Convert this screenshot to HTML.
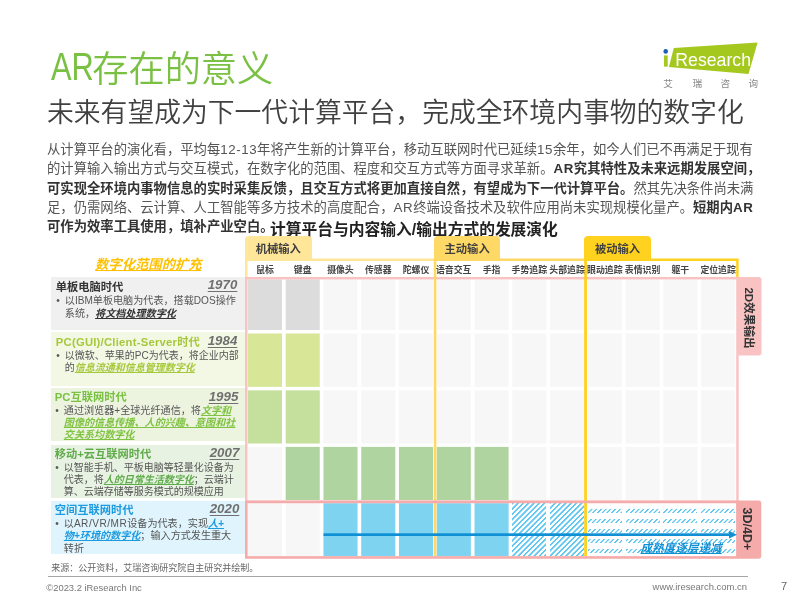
<!DOCTYPE html>
<html lang="zh-CN">
<head>
<meta charset="utf-8">
<title>AR存在的意义</title>
<style>
html,body{margin:0;padding:0;}
body{width:800px;height:600px;position:relative;overflow:hidden;background:#fff;
  font-family:"Liberation Sans","Noto Sans CJK SC",sans-serif;color:#333;}
.abs{position:absolute;white-space:nowrap;}
#title{left:50.5px;top:44.3px;font-size:36.2px;line-height:50px;color:#7ac143;font-weight:350;}
#title .lat{display:inline-block;font-size:39px;line-height:50px;transform:scaleX(.79);transform-origin:0 0;margin-right:-12.4px;position:relative;top:-2.6px;vertical-align:baseline;}
#subtitle{left:47px;top:92.6px;font-size:26.8px;line-height:40px;color:#404040;font-weight:350;}
.body{left:47px;font-size:13.33px;line-height:19.5px;color:#555;}
.body b{color:#333;}
.body .l{letter-spacing:.55px;}
#ctitle{left:270px;top:218.5px;font-size:15.75px;line-height:22px;font-weight:bold;color:#222;}
#ltitle{left:95px;top:256px;font-size:13.33px;line-height:18px;font-weight:bold;font-style:italic;color:#ffc000;text-decoration:underline;}
.tab{position:absolute;height:23.4px;top:235.7px;width:66.6px;border-radius:4px 4px 0 0;text-align:center;font-size:11.3px;font-weight:bold;line-height:27.4px;color:#404040;}
.ch{position:absolute;top:264.4px;width:44px;margin-left:-5px;text-align:center;font-size:8.9px;line-height:13px;font-weight:bold;color:#444;white-space:nowrap;}
.cell{position:absolute;width:34.1px;background:#f7f7f7;}
.lrow{position:absolute;left:51px;width:193.5px;height:53.3px;}
.lrow .t{position:absolute;left:3.8px;top:2px;font-size:11.25px;line-height:16px;font-weight:bold;white-space:nowrap;}
.lrow .y{position:absolute;right:6.2px;top:-1px;font-size:13.3px;line-height:16px;font-style:italic;font-weight:bold;text-decoration:underline;text-decoration-thickness:1px;text-underline-offset:1.5px;color:#707070;}
.lrow .d{position:absolute;left:12.8px;top:18px;font-size:10.1px;color:#555;white-space:nowrap;}
.lrow .d .ln{height:12.1px;line-height:12.1px;}
.lrow .d:before{content:"•";position:absolute;left:-8.6px;top:0;line-height:12.2px;}
.lrow .d i{font-weight:bold;text-decoration:underline;}
</style>
</head>
<body>
<div id="title" class="abs"><span class="lat">AR</span>存在的意义</div>
<div id="subtitle" class="abs">未来有望成为下一代计算平台，完成全环境内事物的数字化</div>

<!-- logo -->
<svg class="abs" style="left:640px;top:40px" width="140" height="60" viewBox="640 40 140 60">
  <polygon points="673.8,47.9 757.6,42.6 748.5,74.1 668.9,67.1" fill="#a5c81e"/>
  <circle cx="665.7" cy="51.4" r="2.3" fill="#1f5fae"/>
  <rect x="664" y="55.4" width="3.7" height="11.2" fill="#a5c81e"/>
  <text x="675.3" y="66.2" font-family="Liberation Sans, sans-serif" font-size="17.7" fill="#fff">Research</text>
  <g font-family="Noto Sans CJK SC, sans-serif" font-size="9.6" fill="#888" text-anchor="middle">
    <text x="668" y="86.9">艾</text><text x="697.4" y="86.9">瑞</text><text x="725.2" y="86.9">咨</text><text x="753.4" y="86.9">询</text>
  </g>
</svg>

<div class="abs body" style="top:139.5px">从计算平台的演化看，平均每<span class="l">12-13</span>年将产生新的计算平台，移动互联网时代已延续<span class="l">15</span>余年，如今人们已不再满足于现有</div>
<div class="abs body" style="top:159px">的计算输入输出方式与交互模式，在数字化的范围、程度和交互方式等方面寻求革新。<b><span class="l">AR</span>究其特性及未来远期发展空间，</b></div>
<div class="abs body" style="top:178.5px"><b>可实现全环境内事物信息的实时采集反馈，且交互方式将更加直接自然，有望成为下一代计算平台。</b>然其先决条件尚未满</div>
<div class="abs body" style="top:198px">足，仍需网络、云计算、人工智能等多方技术的高度配合，<span class="l">AR</span>终端设备技术及软件应用尚未实现规模化量产。<b>短期内<span class="l">AR</span></b></div>
<div class="abs body" style="top:216.5px"><b>可作为效率工具使用，填补产业空白。</b></div>
<div id="ctitle" class="abs">计算平台与内容输入/输出方式的发展演化</div>
<div id="ltitle" class="abs">数字化范围的扩充</div>

<div id="chart">
<svg class="abs" style="left:0;top:0" width="800" height="600" viewBox="0 0 800 600">
<rect x="247.90" y="279.4" width="34.1" height="50.6" fill="#dcdcdc"/>
<rect x="285.67" y="279.4" width="34.1" height="50.6" fill="#dcdcdc"/>
<rect x="323.44" y="279.4" width="34.1" height="50.6" fill="#f7f7f7"/>
<rect x="361.21" y="279.4" width="34.1" height="50.6" fill="#f7f7f7"/>
<rect x="398.98" y="279.4" width="34.1" height="50.6" fill="#f7f7f7"/>
<rect x="436.75" y="279.4" width="34.1" height="50.6" fill="#f7f7f7"/>
<rect x="474.52" y="279.4" width="34.1" height="50.6" fill="#f7f7f7"/>
<rect x="512.29" y="279.4" width="34.1" height="50.6" fill="#f7f7f7"/>
<rect x="550.06" y="279.4" width="34.1" height="50.6" fill="#f7f7f7"/>
<rect x="587.83" y="279.4" width="34.1" height="50.6" fill="#f7f7f7"/>
<rect x="625.60" y="279.4" width="34.1" height="50.6" fill="#f7f7f7"/>
<rect x="663.37" y="279.4" width="34.1" height="50.6" fill="#f7f7f7"/>
<rect x="701.14" y="279.4" width="34.1" height="50.6" fill="#f7f7f7"/>
<rect x="247.90" y="333.5" width="34.1" height="53.4" fill="#d7e697"/>
<rect x="285.67" y="333.5" width="34.1" height="53.4" fill="#d7e697"/>
<rect x="323.44" y="333.5" width="34.1" height="53.4" fill="#f7f7f7"/>
<rect x="361.21" y="333.5" width="34.1" height="53.4" fill="#f7f7f7"/>
<rect x="398.98" y="333.5" width="34.1" height="53.4" fill="#f7f7f7"/>
<rect x="436.75" y="333.5" width="34.1" height="53.4" fill="#f7f7f7"/>
<rect x="474.52" y="333.5" width="34.1" height="53.4" fill="#f7f7f7"/>
<rect x="512.29" y="333.5" width="34.1" height="53.4" fill="#f7f7f7"/>
<rect x="550.06" y="333.5" width="34.1" height="53.4" fill="#f7f7f7"/>
<rect x="587.83" y="333.5" width="34.1" height="53.4" fill="#f7f7f7"/>
<rect x="625.60" y="333.5" width="34.1" height="53.4" fill="#f7f7f7"/>
<rect x="663.37" y="333.5" width="34.1" height="53.4" fill="#f7f7f7"/>
<rect x="701.14" y="333.5" width="34.1" height="53.4" fill="#f7f7f7"/>
<rect x="247.90" y="390.4" width="34.1" height="53.1" fill="#c4e09c"/>
<rect x="285.67" y="390.4" width="34.1" height="53.1" fill="#c4e09c"/>
<rect x="323.44" y="390.4" width="34.1" height="53.1" fill="#f7f7f7"/>
<rect x="361.21" y="390.4" width="34.1" height="53.1" fill="#f7f7f7"/>
<rect x="398.98" y="390.4" width="34.1" height="53.1" fill="#f7f7f7"/>
<rect x="436.75" y="390.4" width="34.1" height="53.1" fill="#f7f7f7"/>
<rect x="474.52" y="390.4" width="34.1" height="53.1" fill="#f7f7f7"/>
<rect x="512.29" y="390.4" width="34.1" height="53.1" fill="#f7f7f7"/>
<rect x="550.06" y="390.4" width="34.1" height="53.1" fill="#f7f7f7"/>
<rect x="587.83" y="390.4" width="34.1" height="53.1" fill="#f7f7f7"/>
<rect x="625.60" y="390.4" width="34.1" height="53.1" fill="#f7f7f7"/>
<rect x="663.37" y="390.4" width="34.1" height="53.1" fill="#f7f7f7"/>
<rect x="701.14" y="390.4" width="34.1" height="53.1" fill="#f7f7f7"/>
<rect x="247.90" y="446.9" width="34.1" height="53.1" fill="#f7f7f7"/>
<rect x="285.67" y="446.9" width="34.1" height="53.1" fill="#b0d4a0"/>
<rect x="323.44" y="446.9" width="34.1" height="53.1" fill="#b0d4a0"/>
<rect x="361.21" y="446.9" width="34.1" height="53.1" fill="#b0d4a0"/>
<rect x="398.98" y="446.9" width="34.1" height="53.1" fill="#b0d4a0"/>
<rect x="436.75" y="446.9" width="34.1" height="53.1" fill="#b0d4a0"/>
<rect x="474.52" y="446.9" width="34.1" height="53.1" fill="#b0d4a0"/>
<rect x="512.29" y="446.9" width="34.1" height="53.1" fill="#f7f7f7"/>
<rect x="550.06" y="446.9" width="34.1" height="53.1" fill="#f7f7f7"/>
<rect x="587.83" y="446.9" width="34.1" height="53.1" fill="#f7f7f7"/>
<rect x="625.60" y="446.9" width="34.1" height="53.1" fill="#f7f7f7"/>
<rect x="663.37" y="446.9" width="34.1" height="53.1" fill="#f7f7f7"/>
<rect x="701.14" y="446.9" width="34.1" height="53.1" fill="#f7f7f7"/>
<rect x="247.90" y="503.2" width="34.1" height="52.8" fill="#f7f7f7"/>
<rect x="285.67" y="503.2" width="34.1" height="52.8" fill="#f7f7f7"/>
<rect x="323.44" y="503.2" width="34.1" height="52.8" fill="#7dd3f0"/>
<rect x="361.21" y="503.2" width="34.1" height="52.8" fill="#7dd3f0"/>
<rect x="398.98" y="503.2" width="34.1" height="52.8" fill="#7dd3f0"/>
<rect x="436.75" y="503.2" width="34.1" height="52.8" fill="#7dd3f0"/>
<rect x="474.52" y="503.2" width="34.1" height="52.8" fill="#7dd3f0"/>
<rect x="512.29" y="503.2" width="34.1" height="52.8" fill="#fff"/>
<rect x="550.06" y="503.2" width="34.1" height="52.8" fill="#fff"/>
<rect x="587.83" y="503.2" width="34.1" height="52.8" fill="#fff"/>
<rect x="625.60" y="503.2" width="34.1" height="52.8" fill="#fff"/>
<rect x="663.37" y="503.2" width="34.1" height="52.8" fill="#fff"/>
<rect x="701.14" y="503.2" width="34.1" height="52.8" fill="#fff"/>
</svg>
<div class="abs" style="left:512.29px;top:503.0px;width:71.87px;height:53.0px;background:repeating-linear-gradient(135deg,#60c7ee 0,#60c7ee 1.138px,#fff 1.638px,#fff 3.255px,#60c7ee 3.755px,#60c7ee 3.267px)"></div>
<div class="abs" style="left:587.83px;top:503.0px;width:147.41px;height:53.0px;background:repeating-linear-gradient(180deg,#fff 0,#fff 5.45px,transparent 5.85px,transparent 9.65px,#fff 10.05px,#fff 9.22px),repeating-linear-gradient(135deg,#60c7ee 0,#60c7ee 0.799px,#fff 1.299px,#fff 2.831px,#60c7ee 3.331px,#60c7ee 3.182px)"></div>
<div class="abs" style="left:546.39px;top:503.0px;width:3.67px;height:53.0px;background:#fff"></div>
<div class="abs" style="left:621.93px;top:503.0px;width:3.67px;height:53.0px;background:#fff"></div>
<div class="abs" style="left:659.70px;top:503.0px;width:3.67px;height:53.0px;background:#fff"></div>
<div class="abs" style="left:697.47px;top:503.0px;width:3.67px;height:53.0px;background:#fff"></div>
<svg class="abs" style="left:0;top:0" width="800" height="600" viewBox="0 0 800 600">
<polyline points="246.25,279 246.25,259.75 435,259.75" fill="none" stroke="#ffe699" stroke-width="2.5" stroke-linejoin="miter"/>
<polyline points="433.8,259.75 586,259.75" fill="none" stroke="#ffd966" stroke-width="2.5" stroke-linejoin="miter"/>
<polyline points="584.2,259.75 737.4,259.75 737.4,279" fill="none" stroke="#ffd21f" stroke-width="2.5" stroke-linejoin="miter"/>
<rect x="246.25" y="278.2" width="491.2" height="223.6" fill="none" stroke="#f9c3c3" stroke-width="2.5"/>
<rect x="433.8" y="258.5" width="2.6" height="297.7" fill="#ffd966"/>
<rect x="584.15" y="258.5" width="2.8" height="297.7" fill="#ffd21f"/>
<rect x="246.3" y="501.9" width="491.1" height="55.55" fill="none" stroke="#f6abab" stroke-width="2.6"/>
<path d="M738,277 H758.5 a3,3 0 0 1 3,3 V352.5 a3,3 0 0 1 -3,3 H738 Z" fill="#f9c3c3"/>
<path d="M737.5,500.6 H758.3 a3,3 0 0 1 3,3 V555.7 a3,3 0 0 1 -3,3 H737.5 Z" fill="#f6abab"/>
<rect x="323.5" y="533.3" width="408" height="2.7" fill="#0f8fd4"/>
<polygon points="729,530.9 737,534.65 729,538.4" fill="#0f8fd4"/>
<text transform="translate(744.5,287.4) rotate(90)" font-size="11.6" font-weight="bold" fill="#333" font-family="Liberation Sans, Noto Sans CJK SC, sans-serif">2D效果输出</text>
<text transform="translate(742.5,507.5) rotate(90)" font-size="12.5" font-weight="bold" fill="#333" font-family="Liberation Sans, Noto Sans CJK SC, sans-serif">3D/4D+</text>
</svg>
<div class="tab" style="left:245px;background:#ffe699">机械输入</div>
<div class="tab" style="left:433.8px;background:#ffd966">主动输入</div>
<div class="tab" style="left:584.2px;background:#ffd21f">被动输入</div>
<div class="ch" style="left:247.90px">鼠标</div>
<div class="ch" style="left:285.67px">键盘</div>
<div class="ch" style="left:323.44px">摄像头</div>
<div class="ch" style="left:361.21px">传感器</div>
<div class="ch" style="left:398.98px">陀螺仪</div>
<div class="ch" style="left:436.75px">语音交互</div>
<div class="ch" style="left:474.52px">手指</div>
<div class="ch" style="left:512.29px">手势追踪</div>
<div class="ch" style="left:550.06px">头部追踪</div>
<div class="ch" style="left:587.83px">眼动追踪</div>
<div class="ch" style="left:625.60px">表情识别</div>
<div class="ch" style="left:663.37px">躯干</div>
<div class="ch" style="left:701.14px">定位追踪</div>
<div class="abs" style="left:640.5px;top:540px;font-size:11.6px;line-height:16px;font-weight:bold;font-style:italic;color:#0f8fd4;text-decoration:underline;">成熟度逐层递减</div>
<div class="lrow" style="top:276.8px;background:#f0f0f0"><div class="t" style="color:#333;top:2.0px;left:4.8px">单板电脑时代</div><div class="y" style="top:0.6px;right:7.2px">1970</div><div class="d" style="top:18.7px;font-size:10.1px;left:13.8px"><div class="ln" style="height:12.2px;line-height:12.2px">以IBM单板电脑为代表，搭载DOS操作</div><div class="ln" style="height:12.2px;line-height:12.2px">系统，<i style='color:#333'>将文档处理数字化</i></div></div></div>
<div class="lrow" style="top:332.4px;background:#f3f8e4"><div class="t" style="color:#a6c83c;top:1.6px;left:4.8px"><span style='letter-spacing:.24px'>PC(GUI)/Client-Server</span>时代</div><div class="y" style="top:0.2px;right:7.2px">1984</div><div class="d" style="top:18.0px;font-size:10.0px;left:13.8px"><div class="ln" style="height:12.0px;line-height:12.0px">以微软、苹果的PC为代表，将企业内部</div><div class="ln" style="height:12.0px;line-height:12.0px">的<i style='color:#a6c83c'>信息流通和信息管理数字化</i></div></div></div>
<div class="lrow" style="top:388.2px;background:#ecf4e0"><div class="t" style="color:#7ac143;top:0.5px;left:3.8px">PC互联网时代</div><div class="y" style="top:1.1px;right:6.2px">1995</div><div class="d" style="top:16.6px;font-size:10.1px;left:12.8px"><div class="ln" style="height:12.2px;line-height:12.2px">通过浏览器+全球光纤通信，将<i style='color:#80c342'>文字和</i></div><div class="ln" style="height:12.2px;line-height:12.2px"><i style='color:#80c342'>图像的信息传播、人的兴趣、意图和社</i></div><div class="ln" style="height:12.2px;line-height:12.2px"><i style='color:#80c342'>交关系均数字化</i></div></div></div>
<div class="lrow" style="top:444.8px;background:#e8f2e2"><div class="t" style="color:#60ab4c;top:1.3px;left:3.8px">移动+云互联网时代</div><div class="y" style="top:0.0px;right:5.2px">2007</div><div class="d" style="top:17.3px;font-size:10.0px;left:12.8px"><div class="ln" style="height:12.2px;line-height:12.2px">以智能手机、平板电脑等轻量化设备为</div><div class="ln" style="height:12.2px;line-height:12.2px">代表，将<i style='color:#60ab4c'>人的日常生活数字化</i>；云端计</div><div class="ln" style="height:12.2px;line-height:12.2px">算、云端存储等服务模式的规模应用</div></div></div>
<div class="lrow" style="top:501.0px;background:#dff4fc"><div class="t" style="color:#1c9be0;top:1.3px;left:3.8px">空间互联网时代</div><div class="y" style="top:0.2px;right:5.2px">2020</div><div class="d" style="top:17.3px;font-size:10.1px;left:12.8px"><div class="ln" style="height:12.2px;line-height:12.2px">以<span style='letter-spacing:.5px'>AR/VR/MR</span>设备为代表，实现<i style='color:#1c9be0'>人+</i></div><div class="ln" style="height:12.2px;line-height:12.2px"><i style='color:#1c9be0'>物+环境的数字化</i>；输入方式发生重大</div><div class="ln" style="height:12.2px;line-height:12.2px">转折</div></div></div>
</div><!--/chart-->

<div class="abs" style="left:51.3px;top:561.3px;font-size:9px;line-height:14px;color:#666;">来源：公开资料，艾瑞咨询研究院自主研究并绘制。</div>
<div class="abs" style="left:48px;top:575.6px;width:700px;height:1px;background:#a6a6a6;"></div>
<div class="abs" style="left:46.3px;top:580.6px;font-size:9.4px;line-height:14px;color:#777;">©2023.2 iResearch Inc</div>
<div class="abs" style="right:53px;top:580.4px;font-size:9.45px;line-height:14px;color:#777;">www.iresearch.com.cn</div>
<div class="abs" style="left:781px;top:578.8px;font-size:11px;line-height:14px;color:#666;">7</div>
</body>
</html>
